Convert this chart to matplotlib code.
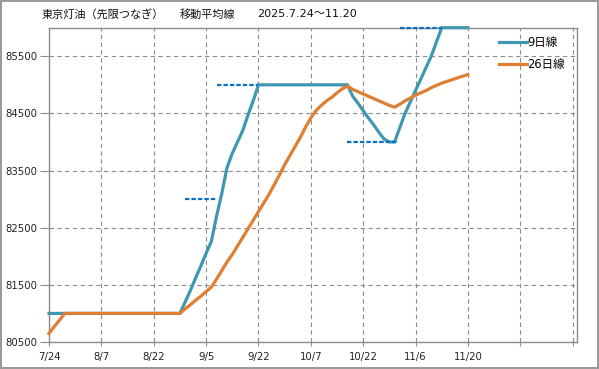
import numpy as np
import matplotlib.pyplot as plt

plt.rcParams['font.family'] = ['DejaVu Sans', 'Noto Sans CJK JP']

# x axis: trading days from 7/24, one tick every 10 days
tick_labels = ['7/24', '8/7', '8/22', '9/5', '9/22', '10/7', '10/22', '11/6', '11/20', '', '']

# 9-day moving average
ma9 = [81000] * 26 + [
    81200, 81400, 81620, 81830, 82050, 82260, 82700, 83100, 83550, 83800,
    84000, 84200, 84470, 84720, 85000,
] + [85000] * 17 + [
    84800, 84680, 84550, 84420, 84300, 84170, 84050, 84000, 84000,
    84250, 84500, 84700, 84900, 85100, 85300, 85500, 85750, 86000,
    86000, 86000, 86000, 86000, 86000,
]

# 26-day moving average
ma26 = [80650, 80770, 80880] + [81000] * 23 + [
    81080, 81150, 81230, 81300, 81380, 81460, 81600, 81750, 81900, 82030,
    82180, 82330, 82480, 82630, 82780, 82930, 83080, 83250, 83420, 83600,
    83760, 83920, 84080, 84260, 84420, 84550, 84640, 84720, 84780, 84860,
    84930, 84980, 84920, 84880, 84840, 84800, 84760, 84720, 84680, 84640,
    84610, 84660, 84720, 84770, 84820, 84860, 84900, 84950, 84990, 85030,
    85060, 85090, 85120, 85150, 85180,
]

# dashed marker levels
lvl_value = [83000, 85000, 84000, 86000]
lvl_start = [26, 32, 57, 67]
lvl_end = [32, 40, 66.5, 75]

x = np.arange(len(ma9))

fig = plt.figure(figsize=(5.99, 3.69), dpi=100)
fig.patch.set_edgecolor('#9a9a9a')
fig.patch.set_linewidth(1.5)
ax = fig.add_axes([0.0818, 0.0732, 0.8820, 0.8518])

ax.grid(True, color='#8c8c8c', linewidth=0.8, linestyle=(0, (4, 3)))
ax.set_axisbelow(True)

ax.plot(x, ma9, color='#3f97b1', linewidth=2.3, label='9日線', clip_on=False, zorder=3)
ax.plot(x, ma26, color='#e07e31', linewidth=2.3, label='26日線', clip_on=False, zorder=3)
for v, s, e in zip(lvl_value, lvl_start, lvl_end):
    ax.plot([s, e], [v, v], color='#0a70c0', linewidth=1.6,
            linestyle=(0, (2.0, 0.9)), clip_on=False, zorder=3)

ax.set_xlim(0, 100.9)
ax.set_ylim(80500, 86000)
ax.set_xticks(np.arange(0, 101, 10))
ax.set_xticklabels(tick_labels)
ax.set_yticks(np.arange(80500, 86000, 1000))

for sp in ax.spines.values():
    sp.set_color('#8c8c8c')
    sp.set_linewidth(1)
ax.tick_params(axis='both', direction='out', color='#8c8c8c',
               labelsize=7.3, labelcolor='#222222')
ax.tick_params(axis='y', length=6.5, pad=2)
ax.tick_params(axis='x', length=3, pad=4)

ax.legend(loc='upper left', bbox_to_anchor=(0.833, 0.902),
          bbox_transform=fig.transFigure, frameon=False, fontsize=8.3,
          borderaxespad=0, borderpad=0, handlelength=2.4,
          handletextpad=0.05, labelspacing=0.75)

# title in three pieces
fig.text(42 / 599, 0.962, '東京灯油（先限つなぎ）', fontsize=8.0,
         family=['Noto Sans CJK JP'], ha='left', va='center', color='#111111')
fig.text(180 / 599, 0.962, '移動平均線', fontsize=8.0,
         family=['Noto Sans CJK JP'], ha='left', va='center', color='#111111')
fig.text(257 / 599, 0.962, '2025.7.24～11.20', fontsize=8.0,
         ha='left', va='center', color='#111111')

fig.savefig('out.png', dpi=100)
